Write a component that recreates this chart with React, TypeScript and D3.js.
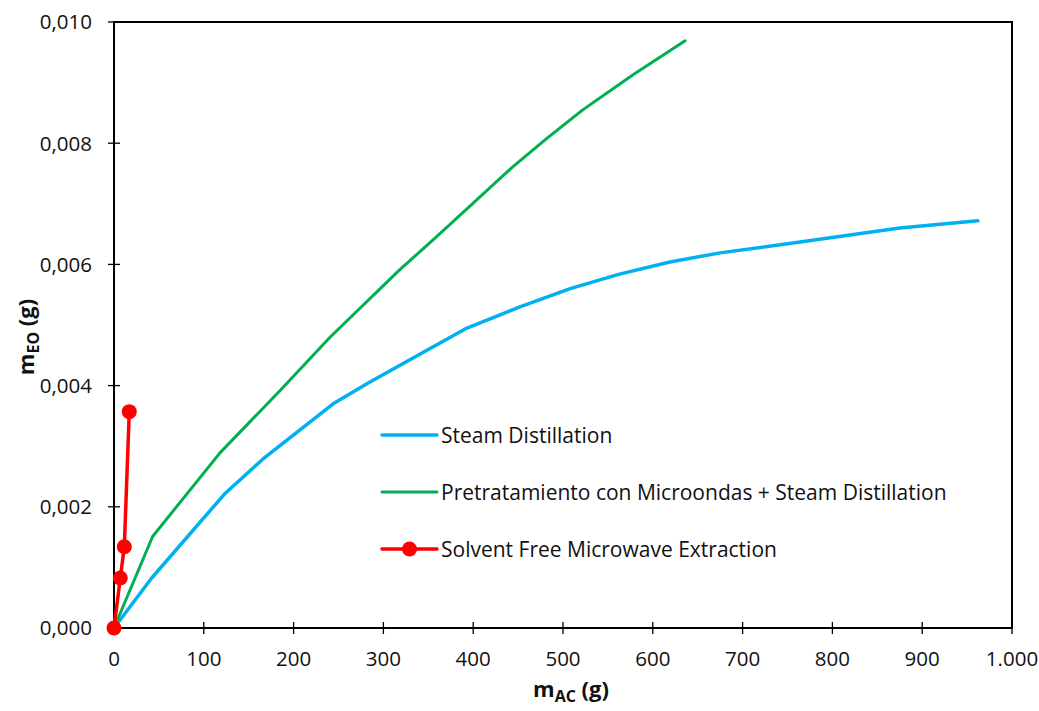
import React, { useEffect, useRef } from "react";
import * as d3 from "d3";

// m_AC (g) vs m_EO (g)
const steamX = [0, 42, 123, 166, 244, 285, 341, 393, 452, 508, 563, 619, 675, 764, 875, 962];
const steamY = [0, 0.000825, 0.00221, 0.00279, 0.0037, 0.00406, 0.00452, 0.00495, 0.0053, 0.0056, 0.00584, 0.00604, 0.00619, 0.00637, 0.0066, 0.00672];

const pretratX = [0, 43, 118, 185, 240, 318, 355, 400, 444, 482, 522, 578, 636];
const pretratY = [0, 0.00151, 0.00289, 0.00392, 0.00479, 0.00591, 0.0064, 0.00701, 0.00761, 0.00808, 0.00855, 0.00913, 0.00969];

const sfmeX = [0, 7, 11.5, 17];
const sfmeY = [0, 0.000825, 0.00134, 0.00357];

const xTicks = [0, 100, 200, 300, 400, 500, 600, 700, 800, 900, 1000];
const yTicks = [0, 0.002, 0.004, 0.006, 0.008, 0.01];

const seriesNames = [
  "Steam Distillation",
  "Pretratamiento con Microondas + Steam Distillation",
  "Solvent Free Microwave Extraction",
];

const W = 1039;
const H = 711;
const FONT = "'Open Sans', 'Noto Sans', sans-serif";

export default function App() {
  const ref = useRef<SVGSVGElement>(null);

  useEffect(() => {
    const svg = d3.select(ref.current);
    svg.selectAll("*").remove();

    const left = 114, right = 1012, top = 22, bottom = 628;

    const x = d3.scaleLinear().domain([0, 1000]).range([left, right]);
    const y = d3.scaleLinear().domain([0, 0.01]).range([bottom, top]);

    const fmtY = (v: number) => v.toFixed(3).replace(".", ",");
    const fmtX = (v: number) => (v >= 1000 ? d3.format(",")(v).replace(",", ".") : String(v));

    // frame
    svg.append("rect")
      .attr("x", left).attr("y", top)
      .attr("width", right - left).attr("height", bottom - top)
      .attr("fill", "none").attr("stroke", "#000").attr("stroke-width", 2);

    // y ticks
    const gy = svg.append("g");
    gy.selectAll("line").data(yTicks).enter().append("line")
      .attr("x1", left - 6).attr("x2", left + 6)
      .attr("y1", (d) => y(d)).attr("y2", (d) => y(d))
      .attr("stroke", "#000").attr("stroke-width", 1.3);
    gy.selectAll("text").data(yTicks).enter().append("text")
      .attr("x", left - 22).attr("y", (d) => y(d))
      .attr("dy", "0.36em")
      .attr("text-anchor", "end")
      .attr("font-family", FONT).attr("font-size", 20.5)
      .attr("fill", "#111")
      .text((d) => fmtY(d));

    // x ticks
    const gx = svg.append("g");
    gx.selectAll("line").data(xTicks).enter().append("line")
      .attr("x1", (d) => x(d)).attr("x2", (d) => x(d))
      .attr("y1", bottom - 6).attr("y2", bottom + 6)
      .attr("stroke", "#000").attr("stroke-width", 1.3);
    gx.selectAll("text").data(xTicks).enter().append("text")
      .attr("x", (d) => x(d)).attr("y", bottom + 31)
      .attr("dy", "0.36em")
      .attr("text-anchor", "middle")
      .attr("font-family", FONT).attr("font-size", 20.5)
      .attr("fill", "#111")
      .text((d) => fmtX(d));

    const line = d3.line<[number, number]>()
      .x((d) => x(d[0]))
      .y((d) => y(d[1]));

    const steam = steamX.map((v, i) => [v, steamY[i]] as [number, number]);
    const pret = pretratX.map((v, i) => [v, pretratY[i]] as [number, number]);
    const sfme = sfmeX.map((v, i) => [v, sfmeY[i]] as [number, number]);

    svg.append("path").datum(steam)
      .attr("d", line).attr("fill", "none")
      .attr("stroke", "#00B0F0").attr("stroke-width", 3.5)
      .attr("stroke-linejoin", "round").attr("stroke-linecap", "round");

    svg.append("path").datum(pret)
      .attr("d", line).attr("fill", "none")
      .attr("stroke", "#00B050").attr("stroke-width", 3)
      .attr("stroke-linejoin", "round").attr("stroke-linecap", "round");

    svg.append("path").datum(sfme)
      .attr("d", line).attr("fill", "none")
      .attr("stroke", "#FF0000").attr("stroke-width", 3.5)
      .attr("stroke-linejoin", "round");
    svg.selectAll(".dot").data(sfme).enter().append("circle")
      .attr("class", "dot")
      .attr("cx", (d) => x(d[0])).attr("cy", (d) => y(d[1]))
      .attr("r", 7.5).attr("fill", "#FF0000");

    // legend
    const colors = ["#00B0F0", "#00B050", "#FF0000"];
    const widths = [3.5, 3, 3.5];
    const lg = svg.append("g").attr("transform", "translate(382,435)");
    seriesNames.forEach((name, i) => {
      const row = lg.append("g").attr("transform", `translate(0,${i * 57})`);
      row.append("line")
        .attr("x1", 0).attr("x2", 55).attr("y1", 0).attr("y2", 0)
        .attr("stroke", colors[i]).attr("stroke-width", widths[i])
        .attr("stroke-linecap", "round");
      if (i === 2) {
        row.append("circle").attr("cx", 27.5).attr("cy", 0).attr("r", 7.5).attr("fill", colors[i]);
      }
      row.append("text")
        .attr("x", 59).attr("y", 0).attr("dy", "0.36em")
        .attr("font-family", FONT).attr("font-size", 21)
        .attr("fill", "#111")
        .text(name);
    });

    // axis titles
    const xt = svg.append("text")
      .attr("x", 571).attr("y", 697)
      .attr("text-anchor", "middle")
      .attr("font-family", FONT).attr("font-size", 22).attr("font-weight", "bold")
      .attr("fill", "#111");
    xt.append("tspan").text("m");
    xt.append("tspan").attr("font-size", 16).attr("dy", 5).text("AC");
    xt.append("tspan").attr("dy", -5).text(" (g)");

    const yt = svg.append("text")
      .attr("transform", `translate(34,337) rotate(-90)`)
      .attr("text-anchor", "middle")
      .attr("font-family", FONT).attr("font-size", 22).attr("font-weight", "bold")
      .attr("fill", "#111");
    yt.append("tspan").text("m");
    yt.append("tspan").attr("font-size", 16).attr("dy", 5).text("EO");
    yt.append("tspan").attr("dy", -5).text(" (g)");
  }, []);

  return (
    <svg
      ref={ref}
      width={W}
      height={H}
      style={{ position: "absolute", left: 0, top: 0, background: "#fff" }}
    />
  );
}
